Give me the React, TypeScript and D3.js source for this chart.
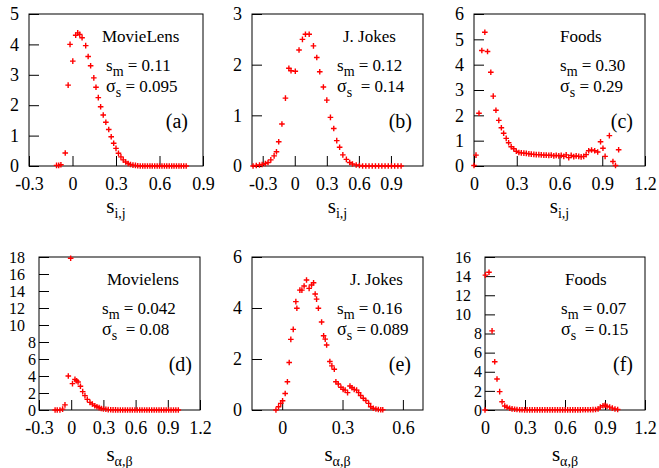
import React, { useEffect, useRef } from "react";
import * as d3 from "d3";

// [s, P(s)] pairs
const movieLensUsers = [
  [-0.11, 0.02], [-0.095, 0.02], [-0.08, 0.04], [-0.05, 0.43], [-0.03, 2.66], [-0.017, 4.0],
  [0.002, 3.45], [0.022, 4.3], [0.036, 4.38], [0.05, 4.33], [0.066, 4.22], [0.091, 3.96],
  [0.108, 3.6], [0.125, 3.3], [0.147, 2.9], [0.162, 2.59], [0.178, 2.25], [0.194, 1.95],
  [0.212, 1.68], [0.23, 1.44], [0.25, 1.2], [0.267, 0.96], [0.284, 0.75], [0.3, 0.58],
  [0.317, 0.42], [0.334, 0.3], [0.35, 0.2], [0.367, 0.13], [0.384, 0.08], [0.4, 0.05],
  [0.417, 0.03], [0.434, 0.02], [0.45, 0.01], [0.467, 0], [0.484, 0], [0.5, 0], [0.517, 0],
  [0.534, 0], [0.55, 0], [0.567, 0], [0.584, 0], [0.6, 0], [0.617, 0], [0.634, 0], [0.65, 0],
  [0.667, 0], [0.684, 0], [0.7, 0], [0.717, 0], [0.734, 0], [0.75, 0], [0.767, 0], [0.784, 0],
];

const jokesUsers = [
  [-0.39, 0], [-0.36, 0.01], [-0.33, 0.02], [-0.305, 0.03], [-0.275, 0.05], [-0.25, 0.07],
  [-0.224, 0.12], [-0.193, 0.2], [-0.171, 0.28], [-0.15, 0.48], [-0.12, 0.83], [-0.087, 1.34],
  [-0.055, 1.93], [-0.035, 1.88], [0.005, 1.87], [0.04, 2.29], [0.072, 2.5], [0.1, 2.6],
  [0.135, 2.6], [0.175, 2.37], [0.206, 2.14], [0.234, 1.86], [0.268, 1.56], [0.3, 1.3],
  [0.334, 0.96], [0.365, 0.74], [0.393, 0.5], [0.42, 0.37], [0.45, 0.22], [0.483, 0.13],
  [0.514, 0.07], [0.54, 0.04], [0.575, 0.02], [0.605, 0.01], [0.635, 0], [0.665, 0], [0.695, 0],
  [0.725, 0], [0.755, 0], [0.785, 0], [0.815, 0], [0.845, 0], [0.875, 0], [0.905, 0], [0.935, 0],
  [0.965, 0], [0.995, 0],
];

const foodsUsers = [
  [0.0, 0.02], [0.014, 0.43], [0.035, 2.08], [0.055, 4.56], [0.076, 5.28], [0.095, 4.52],
  [0.118, 3.7], [0.135, 2.76], [0.154, 2.2], [0.174, 1.8], [0.192, 1.51], [0.208, 1.29],
  [0.226, 1.09], [0.243, 0.92], [0.261, 0.76], [0.279, 0.68], [0.297, 0.58], [0.315, 0.53],
  [0.332, 0.52], [0.35, 0.51], [0.367, 0.5], [0.385, 0.48], [0.402, 0.47], [0.42, 0.46],
  [0.437, 0.45], [0.455, 0.45], [0.472, 0.44], [0.49, 0.43], [0.507, 0.43], [0.525, 0.42],
  [0.542, 0.43], [0.56, 0.4], [0.577, 0.42], [0.595, 0.4], [0.612, 0.42], [0.63, 0.38],
  [0.647, 0.44], [0.665, 0.33], [0.682, 0.42], [0.7, 0.37], [0.717, 0.4], [0.735, 0.38],
  [0.752, 0.36], [0.77, 0.38], [0.787, 0.45], [0.805, 0.6], [0.825, 0.63], [0.847, 0.6],
  [0.868, 0.55], [0.888, 0.96], [0.905, 0.7], [0.92, 0.38], [0.95, 1.2], [0.975, 0.18],
  [0.993, 0.02], [1.015, 0.64],
];

const movieLensItems = [
  [-0.15, 0], [-0.13, 0], [-0.105, 0], [-0.08, 0.1], [-0.058, 0.6], [-0.027, 4.0],
  [-0.005, 17.85], [0.012, 3.1], [0.035, 3.6], [0.05, 3.45], [0.064, 3.3], [0.086, 2.8],
  [0.107, 2.16], [0.128, 1.69], [0.15, 1.25], [0.175, 0.9], [0.197, 0.7], [0.22, 0.5],
  [0.24, 0.38], [0.26, 0.28], [0.28, 0.18], [0.3, 0.12], [0.323, 0.08], [0.345, 0.05],
  [0.368, 0.03], [0.39, 0.02], [0.413, 0.01], [0.435, 0], [0.458, 0], [0.48, 0], [0.503, 0],
  [0.525, 0], [0.548, 0], [0.57, 0], [0.593, 0], [0.615, 0], [0.638, 0], [0.66, 0], [0.683, 0],
  [0.705, 0], [0.728, 0], [0.75, 0], [0.773, 0], [0.795, 0], [0.818, 0], [0.84, 0], [0.863, 0],
  [0.885, 0], [0.908, 0], [0.93, 0], [0.953, 0], [0.975, 0], [0.998, 0],
];

const jokesItems = [
  [-0.031, 0], [-0.018, 0.13], [-0.007, 0.26], [0.002, 0.36], [0.015, 0.65], [0.026, 1.11],
  [0.035, 1.86], [0.043, 2.77], [0.055, 3.16], [0.068, 4.25], [0.073, 3.99], [0.088, 4.7],
  [0.098, 4.7], [0.109, 4.86], [0.121, 5.1], [0.134, 4.77], [0.146, 4.9], [0.156, 4.99],
  [0.164, 4.55], [0.171, 4.35], [0.18, 3.99], [0.196, 3.45], [0.206, 2.91], [0.214, 2.78],
  [0.221, 2.55], [0.237, 1.9], [0.247, 1.73], [0.259, 1.6], [0.267, 1.11], [0.279, 1.02],
  [0.292, 0.89], [0.303, 0.81], [0.313, 0.78], [0.325, 0.68], [0.337, 0.94], [0.347, 0.87],
  [0.358, 0.81], [0.37, 0.78], [0.38, 0.68], [0.39, 0.57], [0.403, 0.46], [0.416, 0.37],
  [0.43, 0.26], [0.44, 0.13], [0.453, 0.07], [0.466, 0.04], [0.478, 0.02], [0.49, 0.01],
  [0.5, 0.01],
];

const foodsItems = [
  [0.0, 0], [0.003, 14.1], [0.03, 14.4], [0.053, 8.27], [0.073, 5.05], [0.09, 3.24],
  [0.11, 1.92], [0.128, 0.87], [0.148, 0.42], [0.165, 0.28], [0.185, 0.18], [0.203, 0.12],
  [0.222, 0.08], [0.24, 0.05], [0.26, 0.03], [0.278, 0.02], [0.297, 0.01], [0.316, 0.01],
  [0.335, 0.01], [0.354, 0.01], [0.373, 0.01], [0.392, 0.01], [0.411, 0.01], [0.43, 0.01],
  [0.449, 0.01], [0.468, 0.01], [0.487, 0.01], [0.506, 0.01], [0.525, 0.01], [0.544, 0.01],
  [0.563, 0.01], [0.582, 0.01], [0.601, 0.01], [0.62, 0.01], [0.639, 0.01], [0.658, 0.01],
  [0.677, 0.01], [0.696, 0.01], [0.715, 0.01], [0.734, 0.02], [0.753, 0.02], [0.772, 0.02],
  [0.791, 0.03], [0.81, 0.04], [0.829, 0.05], [0.848, 0.1], [0.865, 0.3], [0.885, 0.45],
  [0.9, 0.5], [0.915, 0.4], [0.935, 0.3], [0.955, 0.2], [0.975, 0.1], [0.995, 0.05],
];

const xTicksA = [-0.3, 0, 0.3, 0.6, 0.9];
const xTicksB = [-0.3, 0, 0.3, 0.6, 0.9];
const xTicksC = [0, 0.3, 0.6, 0.9, 1.2];
const xTicksD = [-0.3, 0, 0.3, 0.6, 0.9, 1.2];
const xTicksE = [0, 0.3, 0.6];
const xTicksF = [0, 0.3, 0.6, 0.9, 1.2];

const yTicksA = [0, 1, 2, 3, 4, 5];
const yTicksB = [0, 1, 2, 3];
const yTicksC = [0, 1, 2, 3, 4, 5, 6];
const yTicksD = [0, 2, 4, 6, 8, 10, 12, 14, 16, 18];
const yTicksE = [0, 2, 4, 6];
const yTicksF = [0, 2, 4, 6, 8, 10, 12, 14, 16];

const names = ["MovieLens", "J. Jokes", "Foods", "Movielens", "J. Jokes", "Foods"];
const meanLabels = ["0.11", "0.12", "0.30", "0.042", "0.16", "0.07"];
const sigmaLabels = ["0.095", "0.14", "0.29", "0.08", "0.089", "0.15"];
const tags = ["(a)", "(b)", "(c)", "(d)", "(e)", "(f)"];

const W = 659;
const H = 468;
const FONT = "Liberation Serif";

const panels = [
  { data: movieLensUsers, l: 29, r: 203, t: 14, b: 166, xd: [-0.3, 0.9], yd: [0, 5], xt: xTicksA, yt: yTicksA, nameX: 102, statX: 106, tagR: 188, sigGap: " ", sub: "i,j", labY: 213 },
  { data: jokesUsers, l: 252, r: 423, t: 14, b: 166, xd: [-0.4, 1.2], yd: [0, 3], xt: xTicksB, yt: yTicksB, nameX: 343, statX: 337, tagR: 412, sigGap: "  ", sub: "i,j", labY: 213 },
  { data: foodsUsers, l: 474, r: 645, t: 14, b: 166, xd: [0, 1.2], yd: [0, 6], xt: xTicksC, yt: yTicksC, nameX: 560, statX: 560, tagR: 633, sigGap: " ", sub: "i,j", labY: 213 },
  { data: movieLensItems, l: 39, r: 200, t: 257, b: 410, xd: [-0.3, 1.2], yd: [0, 18], xt: xTicksD, yt: yTicksD, nameX: 107, statX: 102, tagR: 192, sigGap: "  ", sub: "α,β", labY: 461 },
  { data: jokesItems, l: 252, r: 423, t: 257, b: 410, xd: [-0.15, 0.7], yd: [0, 6], xt: xTicksE, yt: yTicksE, nameX: 350, statX: 337, tagR: 411, sigGap: " ", sub: "α,β", labY: 461 },
  { data: foodsItems, l: 485, r: 645, t: 257, b: 410, xd: [0, 1.2], yd: [0, 16], xt: xTicksF, yt: yTicksF, nameX: 565, statX: 561, tagR: 633, sigGap: "  ", sub: "α,β", labY: 461 },
];

export default function App() {
  const ref = useRef(null);

  useEffect(() => {
    const svg = d3.select(ref.current);
    svg.selectAll("*").remove();
    svg.append("rect").attr("width", W).attr("height", H).attr("fill", "#fff");

    const txt = (sel, size) => sel.style("font-family", FONT).style("font-size", size + "px").attr("fill", "#000");

    panels.forEach((p, i) => {
      const x = d3.scaleLinear().domain(p.xd).range([p.l, p.r]);
      const y = d3.scaleLinear().domain(p.yd).range([p.b, p.t]);
      const twoDigit = d3.max(p.yt) >= 10;

      const g = svg.append("g");

      // bottom axis, ticks pointing inward
      const ax = g
        .append("g")
        .attr("transform", `translate(0,${p.b})`)
        .call(d3.axisBottom(x).tickValues(p.xt).tickSizeInner(-10).tickSizeOuter(0).tickPadding(11).tickFormat((d) => String(d)));
      ax.select(".domain").remove();
      ax.selectAll("line").attr("stroke", "#000");
      txt(ax.selectAll("text"), 18);

      const ay = g
        .append("g")
        .attr("transform", `translate(${p.l},0)`)
        .call(d3.axisLeft(y).tickValues(p.yt).tickSizeInner(-10).tickSizeOuter(0).tickPadding(10).tickFormat((d) => String(d)));
      ay.select(".domain").remove();
      ay.selectAll("line").attr("stroke", "#000");
      // dense 0..18 scales: slightly smaller labels so they don't collide
      txt(ay.selectAll("text"), twoDigit ? 16 : 18).attr("x", (d) => (twoDigit ? (d >= 10 ? -14 : -3) : -10));

      g.append("rect")
        .attr("x", p.l)
        .attr("y", p.t)
        .attr("width", p.r - p.l)
        .attr("height", p.b - p.t)
        .attr("fill", "none")
        .attr("stroke", "#000")
        .attr("stroke-width", 1);

      g.append("g")
        .selectAll("path")
        .data(p.data)
        .join("path")
        .attr("d", (d) => {
          const px = x(d[0]);
          const py = y(d[1]);
          return `M${px - 2.8},${py}h5.6M${px},${py - 2.8}v5.6`;
        })
        .attr("stroke", "#ff0000")
        .attr("stroke-width", 1.4)
        .attr("fill", "none");

      // annotations
      txt(g.append("text").attr("x", p.nameX).attr("y", p.t + 28), 17).text(names[i]);

      const sm = txt(g.append("text").attr("x", p.statX).attr("y", p.t + 57), 17);
      sm.append("tspan").text("s");
      sm.append("tspan").style("font-size", "14px").attr("dy", 5).text("m");
      sm.append("tspan").attr("dy", -5).text(" = " + meanLabels[i]);

      const sg = txt(g.append("text").attr("x", p.statX).attr("y", p.t + 78), 17).style("white-space", "pre");
      sg.append("tspan").style("font-size", "18px").text("σ");
      sg.append("tspan").style("font-size", "14px").attr("dy", 5).text("s");
      sg.append("tspan").attr("dy", -5).text(p.sigGap + "= " + sigmaLabels[i]);

      txt(g.append("text").attr("x", p.tagR).attr("y", p.t + 114).attr("text-anchor", "end"), 20).text(tags[i]);

      const lab = txt(
        g.append("text").attr("x", (p.l + p.r) / 2).attr("y", p.labY).attr("text-anchor", "middle"),
        21
      );
      lab.append("tspan").text("s");
      lab.append("tspan").style("font-size", "14px").attr("dy", 5).text(p.sub);
    });
  }, []);

  return <svg ref={ref} width={W} height={H} style={{ position: "absolute", left: 0, top: 0 }} />;
}
